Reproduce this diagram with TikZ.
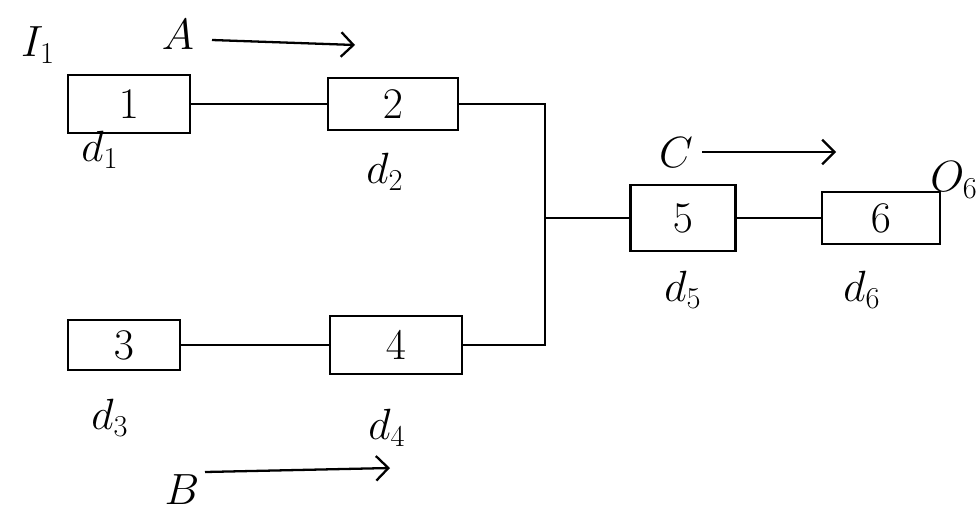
\documentclass[tikz,border=0pt]{standalone}
\usetikzlibrary{arrows.meta}
\begin{document}
\begin{tikzpicture}[x=0.02cm,y=-0.02cm,
  wire/.style={line width=1.5pt},
  blk/.style={draw,line width=1.5pt,minimum width=#1*0.02cm,inner sep=0pt,font=\fontsize{24}{28}\selectfont},
  tag/.style={font=\fontsize{24}{28}\selectfont,inner sep=0pt},
  flow/.style={line width=1.3pt,-{Straight Barb[length=7pt,width=14pt,line width=1.3pt]}}]
\useasboundingbox (0,0) rectangle (979,521);
% blocks
\node[blk=122,minimum height=58*0.02cm] (b1) at (129,104) {$1$};
\node[blk=130,minimum height=52*0.02cm] (b2) at (393,104) {$2$};
\node[blk=112,minimum height=50*0.02cm] (b3) at (124,345) {$3$};
\node[blk=132,minimum height=58*0.02cm] (b4) at (396,345) {$4$};
\node[blk=105,minimum height=66*0.02cm] (b5) at (683,218) {$5$};
\node[blk=118,minimum height=52*0.02cm] (b6) at (881,218) {$6$};
% block labels
\node[tag] (l1) at (100,150) {$d_1$};
\node[tag] (l2) at (385,172) {$d_2$};
\node[tag] (l3) at (110,418) {$d_3$};
\node[tag] (l4) at (387,428) {$d_4$};
\node[tag] (l5) at (683,290) {$d_5$};
\node[tag] (l6) at (862,290) {$d_6$};
\node[tag] (in) at (38,45) {$I_1$};
\node[tag] (out) at (954,180) {$O_6$};
% junction of the two parallel branches
\coordinate (jt) at (545,104);
\coordinate (jb) at (545,345);
\coordinate (jm) at (545,218);
\draw[wire] (b1.east) -- (b2.west);
\draw[wire] (b3.east) -- (b4.west);
\draw[wire] (b2.east) -- (jt) -- (jb) -- (b4.east);
\draw[wire] (jm) -- (b5.west);
\draw[wire] (b5.east) -- (b6.west);
% direction arrows
\node[tag] (A) at (178,35) {$A$};
\coordinate (a1) at (212,40);
\coordinate (a2) at (355,45);
\draw[flow] (a1) -- (a2);
\node[tag] (C) at (676,153) {$C$};
\coordinate (c1) at (702,152);
\coordinate (c2) at (836,152);
\draw[flow] (c1) -- (c2);
\node[tag] (B) at (182,490) {$B$};
\coordinate (bb1) at (205,472);
\coordinate (bb2) at (390,468);
\draw[flow] (bb1) -- (bb2);
\end{tikzpicture}
\end{document}
